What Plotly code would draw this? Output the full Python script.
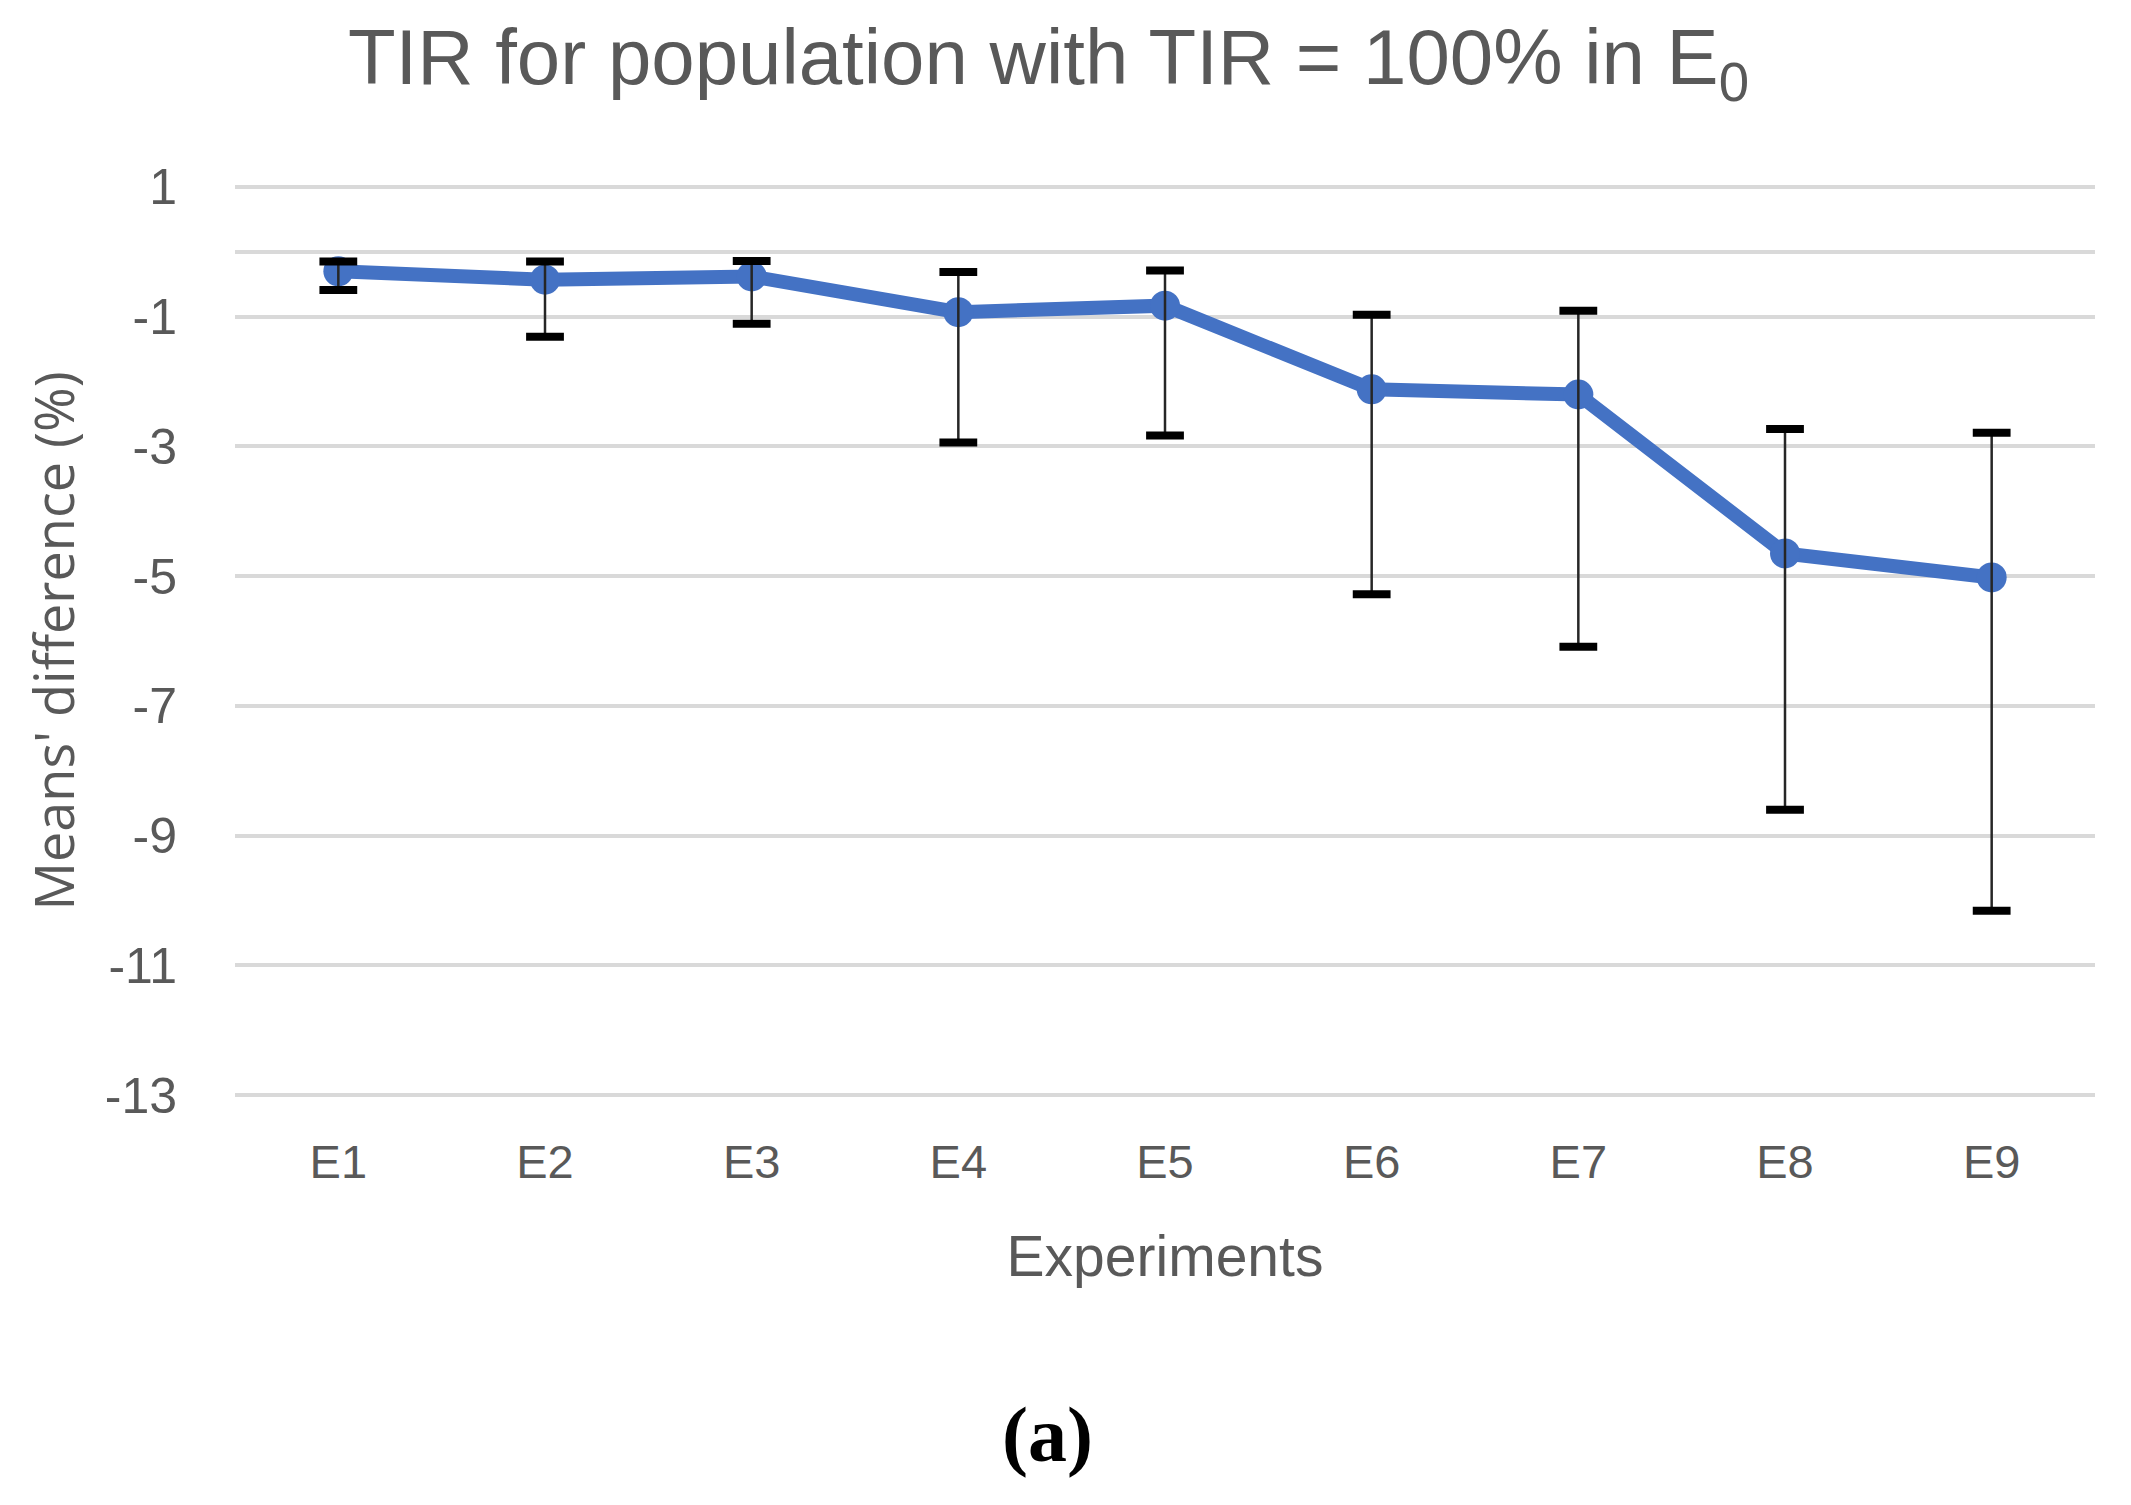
import numpy as np
import plotly.graph_objects as go

# ---- data ----
experiments = ["E1", "E2", "E3", "E4", "E5", "E6", "E7", "E8", "E9"]
mean_diff = [-0.30, -0.43, -0.38, -0.93, -0.83, -2.12, -2.20, -4.65, -5.02]
err_plus = [0.15, 0.28, 0.24, 0.62, 0.54, 1.15, 1.29, 1.92, 2.23]
err_minus = [0.29, 0.88, 0.73, 2.01, 2.00, 3.16, 3.89, 3.95, 5.14]
y_ticks = [1, -1, -3, -5, -7, -9, -11, -13]

BLUE = "#4472C4"
GRAY = "#595959"
GRID = "#D9D9D9"
SANS = "Liberation Sans, Arial"

m = np.array(mean_diff)
upper = m + np.array(err_plus)
lower = m - np.array(err_minus)

fig = go.Figure()

# main line with markers
fig.add_trace(go.Scatter(
    x=experiments, y=mean_diff, mode="lines+markers",
    line=dict(color=BLUE, width=14),
    marker=dict(color=BLUE, size=30),
    showlegend=False, hoverinfo="skip",
))

# error bar stems (drawn on top)
fig.add_trace(go.Scatter(
    x=experiments, y=mean_diff, mode="markers",
    marker=dict(size=1, opacity=0),
    error_y=dict(type="data", symmetric=False, array=err_plus,
                 arrayminus=err_minus, color="#262626", thickness=2.5, width=0),
    showlegend=False, hoverinfo="skip",
))

# error bar caps (thick)
fig.add_trace(go.Scatter(
    x=experiments + experiments, y=list(upper) + list(lower), mode="markers",
    marker=dict(symbol="line-ew", size=27, line=dict(color="black", width=8)),
    showlegend=False, hoverinfo="skip",
))

L, R, T, B = 235, 36, 185, 408
plot_h = 1505 - T - B

fig.update_layout(
    width=2131, height=1505,
    paper_bgcolor="white", plot_bgcolor="white",
    margin=dict(l=L, r=R, t=T, b=B),
    title=dict(
        text="TIR for population with TIR = 100% in E<sub>0</sub>",
        font=dict(family=SANS, size=78, color=GRAY),
        x=0.492, xanchor="center", y=0.962, yanchor="middle",
    ),
    xaxis=dict(
        type="category", range=[-0.5, 8.5],
        showgrid=False, showline=False, zeroline=False, ticks="",
        tickfont=dict(family=SANS, size=47, color=GRAY),
        ticklabelstandoff=33,
        title=dict(text="Experiments",
                   font=dict(family=SANS, size=57, color=GRAY),
                   standoff=49),
    ),
    yaxis=dict(
        range=[-13.03, 1.03], tickvals=y_ticks,
        ticktext=[str(v) for v in y_ticks],
        showgrid=True, gridcolor=GRID, gridwidth=3.5,
        zeroline=True, zerolinecolor=GRID, zerolinewidth=3.5,
        showline=False, ticks="",
        tickfont=dict(family=SANS, size=50, color=GRAY),
        ticklabelstandoff=57,
        title=dict(text="Means' difference (%)",
                   font=dict(family="Open Sans", size=54, color=GRAY),
                   standoff=12),
    ),
    annotations=[dict(
        text="<b>(a)</b>", xref="paper", yref="paper",
        x=(1047 - L) / (2131 - L - R), y=-(1434 - (1505 - B)) / plot_h,
        xanchor="center", yanchor="middle", showarrow=False,
        font=dict(family="Liberation Serif", size=78, color="black"),
    )],
)

fig.write_html("out.html", config={"displayModeBar": False},
               post_script="document.body.style.margin='0px';")
